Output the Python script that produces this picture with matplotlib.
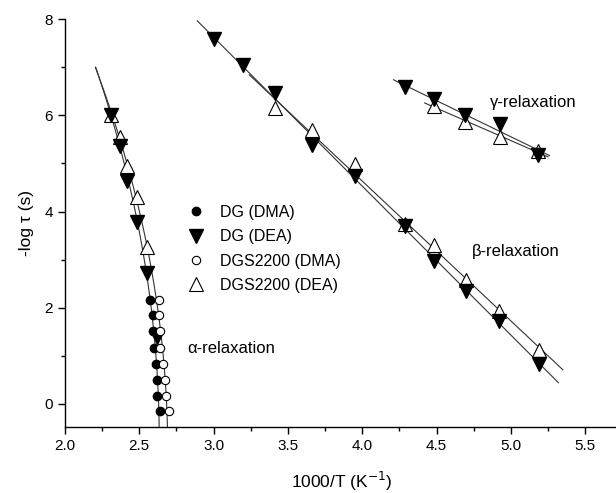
import matplotlib
matplotlib.use("Agg")
import matplotlib.pyplot as plt
from matplotlib.ticker import MultipleLocator
import numpy as np

plt.rcParams['font.family'] = ['Liberation Sans', 'DejaVu Sans']

# alpha relaxation
a_dg_dma_x = [2.575, 2.59, 2.59, 2.60, 2.61, 2.62, 2.62, 2.64]
a_dg_dma_y = [2.16, 1.85, 1.52, 1.16, 0.83, 0.50, 0.17, -0.15]
a_dgs_dma_x = [2.63, 2.63, 2.64, 2.64, 2.66, 2.67, 2.68, 2.70]
a_dgs_dma_y = [2.16, 1.85, 1.52, 1.16, 0.83, 0.50, 0.17, -0.15]
a_dg_dea_x = [2.31, 2.37, 2.42, 2.485, 2.55, 2.62]
a_dg_dea_y = [6.01, 5.37, 4.64, 3.79, 2.72, 1.39]
a_dgs_dea_x = [2.31, 2.37, 2.42, 2.485, 2.55]
a_dgs_dea_y = [6.00, 5.56, 4.95, 4.31, 3.26]

# beta relaxation
b_dg_dea_x = [3.00, 3.20, 3.415, 3.66, 3.95, 4.29, 4.48, 4.70, 4.92, 5.19]
b_dg_dea_y = [7.59, 7.05, 6.47, 5.38, 4.73, 3.69, 2.97, 2.35, 1.73, 0.83]
b_dgs_dea_x = [3.41, 3.66, 3.95, 4.29, 4.48, 4.70, 4.92, 5.19]
b_dgs_dea_y = [6.15, 5.70, 4.98, 3.74, 3.31, 2.58, 1.93, 1.12]

# gamma relaxation
g_dg_dea_x = [4.29, 4.48, 4.69, 4.925, 5.18]
g_dg_dea_y = [6.58, 6.34, 6.01, 5.82, 5.18]
g_dgs_dea_x = [4.48, 4.69, 4.925, 5.18]
g_dgs_dea_y = [6.20, 5.87, 5.56, 5.25]

# x ranges of the fitted lines
b_dg_fit_range = [2.89, 5.32]
b_dgs_fit_range = [3.24, 5.35]
g_dg_fit_range = [4.21, 5.26]
g_dgs_fit_range = [4.42, 5.25]
a_fit_yrange = [-0.5, 7.0]

fig = plt.figure(figsize=(6.16, 4.93), dpi=100)
ax = fig.add_axes([0.1055, 0.134, 0.9, 0.827])

lc = '#333333'
lw = 0.8


def fit_line(xs, ys, xr):
    p = np.polyfit(xs, ys, 1)
    xx = np.array(xr)
    ax.plot(xx, np.polyval(p, xx), color=lc, lw=lw, zorder=1)


# alpha fits: x as a function of y, slightly curved
for xs, ys in [(a_dg_dma_x + a_dg_dea_x, a_dg_dma_y + a_dg_dea_y),
               (a_dgs_dma_x + a_dgs_dea_x, a_dgs_dma_y + a_dgs_dea_y)]:
    p = np.polyfit(ys, xs, 2)
    yy = np.linspace(a_fit_yrange[0], a_fit_yrange[1], 50)
    ax.plot(np.polyval(p, yy), yy, color=lc, lw=lw, zorder=1)

fit_line(b_dg_dea_x, b_dg_dea_y, b_dg_fit_range)
fit_line(b_dgs_dea_x, b_dgs_dea_y, b_dgs_fit_range)
fit_line(g_dg_dea_x, g_dg_dea_y, g_dg_fit_range)
fit_line(g_dgs_dea_x, g_dgs_dea_y, g_dgs_fit_range)

tri = dict(marker='v', ms=9.5, ls='none', color='black', zorder=3)
otri = dict(marker='^', ms=9.5, ls='none', mfc='white', mec='black', mew=0.8, zorder=2)
circ = dict(marker='o', ms=6, ls='none', color='black', zorder=3)
ocirc = dict(marker='o', ms=6, ls='none', mfc='white', mec='black', mew=0.8, zorder=3)

ax.plot(a_dg_dma_x, a_dg_dma_y, label='DG (DMA)', **circ)
ax.plot(a_dg_dea_x + b_dg_dea_x + g_dg_dea_x,
        a_dg_dea_y + b_dg_dea_y + g_dg_dea_y, label='DG (DEA)', **tri)
ax.plot(a_dgs_dma_x, a_dgs_dma_y, label='DGS2200 (DMA)', **ocirc)
ax.plot(a_dgs_dea_x + b_dgs_dea_x + g_dgs_dea_x,
        a_dgs_dea_y + b_dgs_dea_y + g_dgs_dea_y, label='DGS2200 (DEA)', **otri)

ax.text(2.82, 1.16, 'α-relaxation', fontsize=12, va='center', ha='left')
ax.text(4.74, 3.16, 'β-relaxation', fontsize=12, va='center', ha='left')
ax.text(4.86, 6.26, 'γ-relaxation', fontsize=12, va='center', ha='left')

leg = ax.legend(loc='upper left', bbox_to_anchor=(0.208, 0.56), frameon=False,
                fontsize=11.5, handlelength=1.2, handletextpad=0.9,
                labelspacing=0.58, borderaxespad=0)

ax.set_xlim(2.0, 5.73)
ax.set_ylim(-0.48, 8.0)
ax.xaxis.set_major_locator(MultipleLocator(0.5))
ax.xaxis.set_minor_locator(MultipleLocator(0.25))
ax.yaxis.set_major_locator(MultipleLocator(2))
ax.yaxis.set_minor_locator(MultipleLocator(1))
ax.xaxis.set_major_formatter(plt.FormatStrFormatter('%.1f'))

for s in ['top', 'right']:
    ax.spines[s].set_visible(False)
for s in ['left', 'bottom']:
    ax.spines[s].set_linewidth(1.0)
ax.tick_params(which='major', direction='out', length=5, width=1, labelsize=11)
ax.tick_params(which='minor', direction='out', length=3, width=1)

ax.set_xlabel('1000/T (K$^{-1}$)', fontsize=12.5, labelpad=12)
ax.set_ylabel('-log τ (s)', fontsize=12.5, labelpad=8)

fig.savefig('out.png', dpi=100)
